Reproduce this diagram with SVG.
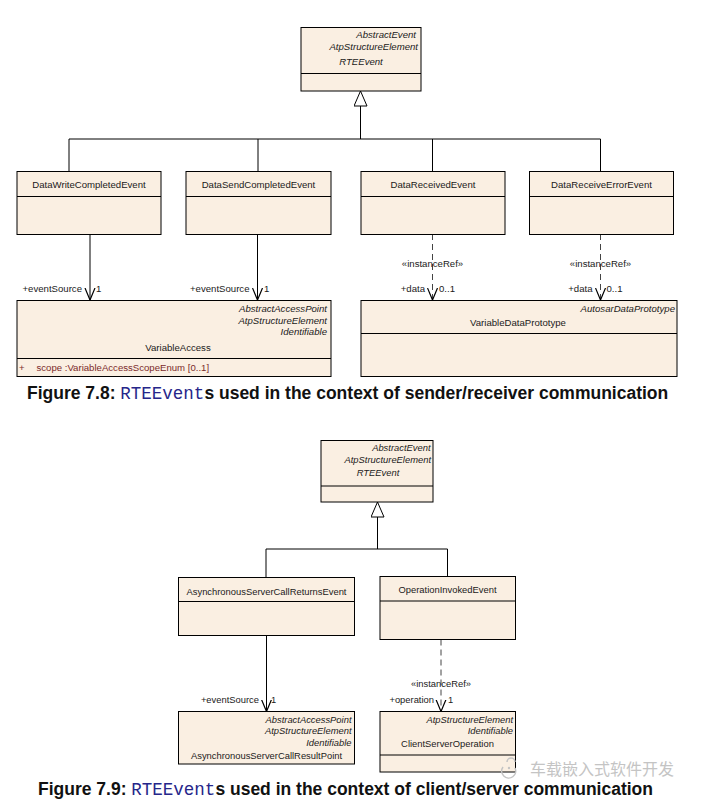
<svg xmlns="http://www.w3.org/2000/svg" width="704" height="803" viewBox="0 0 704 803">
<style>
.box{fill:#faefe2;stroke:#000;stroke-width:1}
.dv{stroke:#000;stroke-width:1}
.t{font-family:"Liberation Sans",Arial,sans-serif;font-size:9.6px;fill:#1a1a1a}
.s{font-size:9.4px}
.i{font-style:italic}
.m{text-anchor:middle}
.e{text-anchor:end}
.attr{fill:#7a2a2a}
.ln{stroke:#000;stroke-width:1;fill:none}
.dash{stroke:#444;stroke-dasharray:6,4}
.cap{font-family:"Liberation Sans",Arial,sans-serif;font-weight:bold;font-size:17.5px;fill:#111}
.mono{font-family:"Liberation Mono","Courier New",monospace;font-weight:normal;fill:#26268a}
.wm{font-family:"Noto Sans CJK SC",sans-serif;font-size:16px;fill:#c4c4c4}
</style>
<defs>
<marker id="open" viewBox="0 0 12 12" refX="12" refY="6" markerWidth="12" markerHeight="12" markerUnits="userSpaceOnUse" orient="auto">
<path d="M0,1 L12,6 L0,11" fill="none" stroke="#000" stroke-width="1.2"/>
</marker>
<marker id="tri" viewBox="0 0 16 14" refX="15.5" refY="7" markerWidth="16" markerHeight="14" markerUnits="userSpaceOnUse" orient="auto">
<path d="M0.5,0.5 L15.5,7 L0.5,13.5 Z" fill="#fff" stroke="#000" stroke-width="1"/>
</marker>
</defs>
<rect width="704" height="803" fill="#fff"/>

<g id="connectors">
<path class="ln" d="M69,171 V139 H600.5 V171 M258,139 V171 M432.5,139 V171"/>
<path class="ln" d="M360.5,139 V91" marker-end="url(#tri)"/>
<path class="ln" d="M90,234 V300" marker-end="url(#open)"/>
<path class="ln" d="M257.5,234 V300" marker-end="url(#open)"/>
<path class="ln dash" d="M432.5,234 V300" marker-end="url(#open)"/>
<path class="ln dash" d="M600.5,234 V300" marker-end="url(#open)"/>
<path class="ln" d="M266,577 V549 H447.5 V576.5"/>
<path class="ln" d="M377.5,549 V502" marker-end="url(#tri)"/>
<path class="ln" d="M266.5,636 V711.5" marker-end="url(#open)"/>
<path class="ln dash" d="M441,639.5 V711.5" marker-end="url(#open)"/>
<g class="t">
<text class="e" x="82" y="292">+eventSource</text>
<text x="96" y="292">1</text>
<text class="e" x="249.5" y="292">+eventSource</text>
<text x="264" y="292">1</text>
<text class="m" x="432.5" y="267">«instanceRef»</text>
<text class="e" x="425" y="292">+data</text>
<text x="439" y="292">0..1</text>
<text class="m" x="600.5" y="267">«instanceRef»</text>
<text class="e" x="592.5" y="292">+data</text>
<text x="606.5" y="292">0..1</text>
</g>
<g class="t s">
<text class="e" x="259" y="703">+eventSource</text>
<text x="271" y="703">1</text>
<text class="m" x="441" y="687">«instanceRef»</text>
<text class="e" x="434" y="703">+operation</text>
<text x="448" y="703">1</text>
</g>
</g>

<g id="RTEEvent1">
<rect class="box" x="301" y="27.5" width="120" height="63.5"/>
<line class="dv" x1="301" y1="73.5" x2="421" y2="73.5"/>
<text class="t i e" x="416" y="38">AbstractEvent</text>
<text class="t i e" x="418" y="50">AtpStructureElement</text>
<text class="t i m" x="361" y="65">RTEEvent</text>
</g>

<g id="DataWriteCompletedEvent">
<rect class="box" x="17" y="171.5" width="144" height="63"/>
<line class="dv" x1="17" y1="196.5" x2="161" y2="196.5"/>
<text class="t m" x="89" y="188">DataWriteCompletedEvent</text>
</g>
<g id="DataSendCompletedEvent">
<rect class="box" x="186" y="171.5" width="145" height="63"/>
<line class="dv" x1="186" y1="196.5" x2="331" y2="196.5"/>
<text class="t m" x="258.5" y="188">DataSendCompletedEvent</text>
</g>
<g id="DataReceivedEvent">
<rect class="box" x="361" y="171.5" width="144" height="63"/>
<line class="dv" x1="361" y1="196.5" x2="505" y2="196.5"/>
<text class="t m" x="433" y="188">DataReceivedEvent</text>
</g>
<g id="DataReceiveErrorEvent">
<rect class="box" x="529.5" y="171.5" width="144" height="63"/>
<line class="dv" x1="529.5" y1="196.5" x2="673.5" y2="196.5"/>
<text class="t m" x="601.5" y="188">DataReceiveErrorEvent</text>
</g>

<g id="VariableAccess">
<rect class="box" x="17" y="300.5" width="314" height="76"/>
<line class="dv" x1="17" y1="358.5" x2="331" y2="358.5"/>
<text class="t i e" x="327" y="312">AbstractAccessPoint</text>
<text class="t i e" x="327" y="323.5">AtpStructureElement</text>
<text class="t i e" x="327" y="335">Identifiable</text>
<text class="t m" x="178" y="351">VariableAccess</text>
<text class="t attr" x="19" y="370.5">+</text>
<text class="t attr" x="36.5" y="370.5">scope  :VariableAccessScopeEnum [0..1]</text>
</g>

<g id="VariableDataPrototype">
<rect class="box" x="361" y="300.5" width="316" height="76"/>
<line class="dv" x1="361" y1="333.5" x2="677" y2="333.5"/>
<text class="t i e" x="675" y="312">AutosarDataPrototype</text>
<text class="t m" x="518" y="326">VariableDataPrototype</text>
</g>

<text class="cap" x="27" y="399">Figure 7.8: <tspan class="mono">RTEEvent</tspan>s used in the context of sender/receiver communication</text>

<g id="RTEEvent2">
<rect class="box" x="321" y="440.5" width="112" height="61.5"/>
<line class="dv" x1="321" y1="486" x2="433" y2="486"/>
<text class="t s i e" x="430.5" y="451">AbstractEvent</text>
<text class="t s i e" x="431" y="462.5">AtpStructureElement</text>
<text class="t s i m" x="378" y="476">RTEEvent</text>
</g>

<g id="AsynchronousServerCallReturnsEvent">
<rect class="box" x="178.5" y="577.5" width="176" height="58"/>
<line class="dv" x1="178.5" y1="601.5" x2="354.5" y2="601.5"/>
<text class="t s m" x="266.5" y="595">AsynchronousServerCallReturnsEvent</text>
</g>
<g id="OperationInvokedEvent">
<rect class="box" x="380" y="576.5" width="135.5" height="63"/>
<line class="dv" x1="380" y1="601" x2="515.5" y2="601"/>
<text class="t s m" x="447.5" y="593">OperationInvokedEvent</text>
</g>

<g id="AsynchronousServerCallResultPoint">
<rect class="box" x="178.5" y="711.5" width="176" height="52.5"/>
<text class="t s i e" x="351.5" y="722.5">AbstractAccessPoint</text>
<text class="t s i e" x="351.5" y="734">AtpStructureElement</text>
<text class="t s i e" x="351.5" y="746">Identifiable</text>
<text class="t s m" x="266.5" y="759">AsynchronousServerCallResultPoint</text>
</g>
<g id="ClientServerOperation">
<rect class="box" x="380" y="711.5" width="135.5" height="60.5"/>
<line class="dv" x1="380" y1="755" x2="515.5" y2="755"/>
<text class="t s i e" x="513" y="722.5">AtpStructureElement</text>
<text class="t s i e" x="513" y="734">Identifiable</text>
<text class="t s m" x="447.5" y="747">ClientServerOperation</text>
</g>

<g id="watermark">
<path d="M503,767 a7,7 0 1,0 12,1 M507,762 a4,4 0 0,1 8,0" fill="none" stroke="#c4c4c4" stroke-width="1.5"/>
<circle cx="509" cy="768" r="1.2" fill="#c4c4c4"/>
<text class="wm" x="530" y="775">车载嵌入式软件开发</text>
</g>

<text class="cap" x="38" y="795">Figure 7.9: <tspan class="mono">RTEEvent</tspan>s used in the context of client/server communication</text>
</svg>
